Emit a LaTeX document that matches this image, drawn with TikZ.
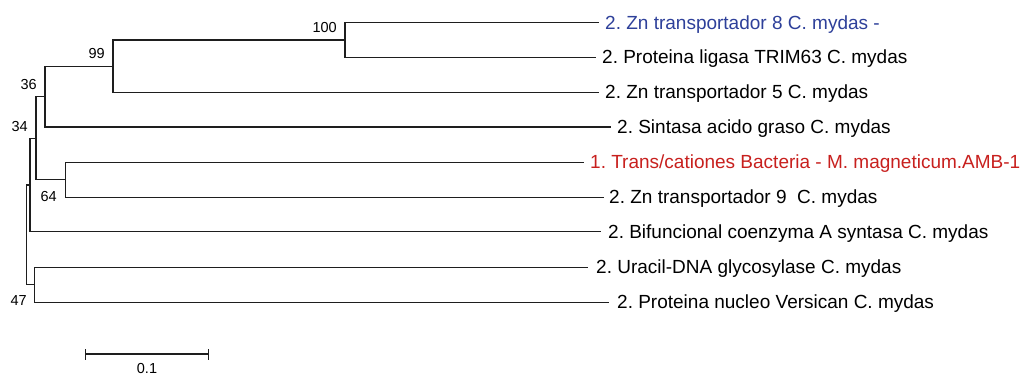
\documentclass[tikz,border=0pt]{standalone}
\usepackage{fontspec}
\setmainfont{Liberation Sans}
\frenchspacing
\definecolor{leafblue}{RGB}{46,64,154}
\definecolor{leafred}{RGB}{200,32,30}
\definecolor{branch}{RGB}{30,30,30}
\begin{document}
\begin{tikzpicture}[x=1pt,y=-1pt,
  br/.style={draw=branch,line width=1.2pt,line cap=rect},
  leaf/.style={anchor=base west,inner sep=0pt,font=\fontsize{19}{22}\selectfont\frenchspacing},
  boot/.style={anchor=base east,inner sep=0pt,font=\fontsize{14.5}{17}\selectfont}]
\useasboundingbox[fill=white] (0,0) rectangle (1025,376);
% internal nodes
\coordinate (n100) at (345,40);
\coordinate (n99) at (113,66.2);
\coordinate (n36) at (45,96.7);
\coordinate (n64) at (65.3,179.8);
\coordinate (n34) at (36,138.2);
\coordinate (nA) at (30,184.9);
\coordinate (n47) at (34.7,284.8);
\coordinate (root) at (26.7,234.8);
% leaf tips
\coordinate (t1) at (598,22.7);
\coordinate (t2) at (595,57.3);
\coordinate (t3) at (598,92.3);
\coordinate (t4) at (610,127);
\coordinate (t5) at (583,162.3);
\coordinate (t6) at (603,197.3);
\coordinate (t7) at (600,231.7);
\coordinate (t8) at (587,267.3);
\coordinate (t9) at (608,302.3);
% leaf labels
\node[leaf,text=leafblue] (l1) at (605,29.2) {2. Zn transportador 8 C. mydas -};
\node[leaf] (l2) at (602,63.8) {2. Proteina ligasa TRIM63 C. mydas};
\node[leaf] (l3) at (605,98.8) {2. Zn transportador 5 C. mydas};
\node[leaf] (l4) at (617,133.5) {2. Sintasa acido graso C. mydas};
\node[leaf,text=leafred] (l5) at (590,168.8) {1. Trans/cationes Bacteria - M. magneticum.AMB-1};
\node[leaf] (l6) at (609,203.8) {2. Zn transportador 9\ \ C. mydas};
\node[leaf] (l7) at (608,238.2) {2. Bifuncional coenzyma A syntasa C. mydas};
\node[leaf] (l8) at (596,273.8) {2. Uracil-DNA glycosylase C. mydas};
\node[leaf] (l9) at (617,308.8) {2. Proteina nucleo Versican C. mydas};
% branches
\draw[br] (n100) |- (t1);
\draw[br] (n100) |- (t2);
\draw[br] (n99) |- (n100);
\draw[br] (n99) |- (t3);
\draw[br] (n36) |- (n99);
\draw[br] (n36) |- (t4);
\draw[br] (n64) |- (t5);
\draw[br] (n64) |- (t6);
\draw[br] (n34) |- (n36);
\draw[br] (n34) |- (n64);
\draw[br] (nA) |- (n34);
\draw[br] (nA) |- (t7);
\draw[br] (n47) |- (t8);
\draw[br] (n47) |- (t9);
\draw[br] (root |- nA) -- (root |- n47);
\draw[br] (root |- nA) -- (nA);
\draw[br] (root |- n47) -- (n47);
% bootstrap values
\node[boot] (b100) at (337,32.2) {100};
\node[boot] (b99) at (105,58.2) {99};
\node[boot] (b36) at (37,89.2) {36};
\node[boot] (b34) at (28,131.2) {34};
\node[boot] (b64) at (57,201) {64};
\node[boot] (b47) at (27,305.2) {47};
% scale bar
\coordinate (sb1) at (85.7,354);
\coordinate (sb2) at (208.3,354);
\draw[br,line cap=butt] (sb1) -- (sb2);
\draw[br,line cap=butt] ([yshift=-5.5pt]sb1) -- ([yshift=5.5pt]sb1);
\draw[br,line cap=butt] ([yshift=-5.5pt]sb2) -- ([yshift=5.5pt]sb2);
\node[anchor=base,inner sep=0pt,font=\fontsize{14.5}{17}\selectfont] (sbl) at (147,373.5) {0.1};
\end{tikzpicture}
\end{document}
